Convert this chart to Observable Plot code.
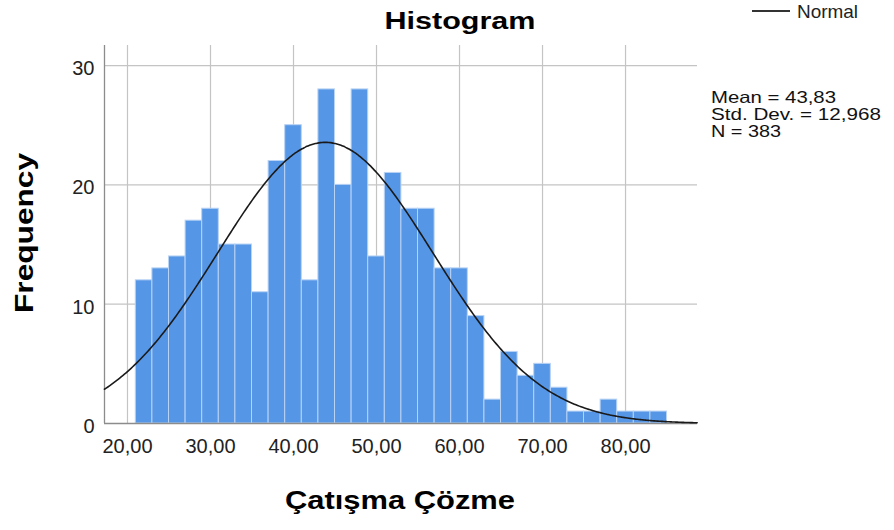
<!DOCTYPE html>
<html>
<head>
<meta charset="utf-8">
<script src="https://cdn.jsdelivr.net/npm/d3@7"></script>
<script src="https://cdn.jsdelivr.net/npm/@observablehq/plot@0.6"></script>
<style>
  html, body { margin: 0; padding: 0; background: #fff; }
  svg { display: block; }
</style>
</head>
<body>
<div id="chart"></div>
<script>
// ---- data ----
const binStarts = [21,23,25,27,29,31,33,35,37,39,41,43,45,47,49,51,53,55,57,59,61,63,65,67,69,71,73,75,77,79,81,83];
const binWidth = 2;
const counts = [12,13,14,17,18,15,15,11,22,25,12,28,20,28,14,21,18,18,13,13,9,2,6,4,5,3,1,1,2,1,1,1];
const xTicks = [20,30,40,50,60,70,80];
const yTicks = [0,10,20,30];
const mean = 43.83, sd = 12.968, n = 383;
const statLines = ["Mean = 43,83", "Std. Dev. = 12,968", "N = 383"];
const statWidths = [125, 170, 70];
const xDomain = [17.23, 88.67];
const yDomain = [0, 31.68];

const bins = binStarts.map((s, i) => ({x1: s, x2: s + binWidth, y: counts[i]}));

// fitted normal curve (scaled to counts per bin)
const curve = d3.range(xDomain[0], xDomain[1] + 0.001, 0.2).map(x => ({
  x,
  y: n * binWidth / (sd * Math.sqrt(2 * Math.PI)) * Math.exp(-0.5 * ((x - mean) / sd) ** 2)
}));

const font = "'Liberation Sans', Arial, sans-serif";

const chart = Plot.plot({
  width: 894,
  height: 530,
  marginLeft: 104,
  marginRight: 197,
  marginTop: 45,
  marginBottom: 107,
  style: {fontFamily: font, background: "#fff", overflow: "visible"},
  x: {domain: xDomain},
  y: {domain: yDomain},
  marks: [
    Plot.ruleX(xTicks, {stroke: "#c4c4c4", strokeWidth: 1.2}),
    Plot.ruleY(yTicks.filter(d => d > 0), {stroke: "#c4c4c4", strokeWidth: 1.2}),
    Plot.rectY(bins, {x1: "x1", x2: "x2", y: "y", fill: "#5596e6", stroke: "#b9d3f4", strokeWidth: 1}),
    Plot.ruleX([xDomain[0]], {stroke: "#8c8c8c", strokeWidth: 1.3}),
    Plot.ruleY([0], {stroke: "#8c8c8c", strokeWidth: 1.3}),
    Plot.line(curve, {x: "x", y: "y", stroke: "#1a1a1a", strokeWidth: 1.6, curve: "basis"}),
    Plot.axisX(xTicks, {tickSize: 0, tickPadding: 15, fontSize: 20, fill: "#222",
      tickFormat: d => d3.format(".2f")(d).replace(".", ","), label: null}),
    Plot.axisY(yTicks, {tickSize: 0, tickPadding: 10, fontSize: 20, fill: "#222", dy: 3, label: null})
  ]
});

document.getElementById("chart").appendChild(chart);

const svg = d3.select(chart);
svg.append("text")
  .attr("x", 460).attr("y", 29)
  .attr("text-anchor", "middle")
  .attr("font-family", font).attr("font-weight", "bold").attr("font-size", 24.6)
  .attr("textLength", 151).attr("lengthAdjust", "spacingAndGlyphs")
  .attr("fill", "#000")
  .text("Histogram");

svg.append("text")
  .attr("transform", "translate(33,233) rotate(-90)")
  .attr("text-anchor", "middle")
  .attr("font-family", font).attr("font-weight", "bold").attr("font-size", 25)
  .attr("textLength", 160).attr("lengthAdjust", "spacingAndGlyphs")
  .attr("fill", "#000")
  .text("Frequency");

svg.append("text")
  .attr("x", 400).attr("y", 509)
  .attr("text-anchor", "middle")
  .attr("font-family", font).attr("font-weight", "bold").attr("font-size", 25)
  .attr("textLength", 230).attr("lengthAdjust", "spacingAndGlyphs")
  .attr("fill", "#000")
  .text("Çatışma Çözme");

// legend
svg.append("line")
  .attr("x1", 752).attr("x2", 790).attr("y1", 11).attr("y2", 11)
  .attr("stroke", "#333").attr("stroke-width", 1.8);
svg.append("text")
  .attr("x", 797).attr("y", 18)
  .attr("text-anchor", "start")
  .attr("font-family", font).attr("font-size", 18.5)
  .attr("textLength", 61).attr("lengthAdjust", "spacingAndGlyphs")
  .attr("fill", "#222")
  .text("Normal");

// stats
svg.append("g").selectAll("text").data(statLines).join("text")
  .attr("x", 711).attr("y", (d, i) => 103 + i * 17)
  .attr("text-anchor", "start")
  .attr("font-family", font).attr("font-size", 16.5)
  .attr("textLength", (d, i) => statWidths[i]).attr("lengthAdjust", "spacingAndGlyphs")
  .attr("fill", "#111")
  .text(d => d);
</script>
</body>
</html>
